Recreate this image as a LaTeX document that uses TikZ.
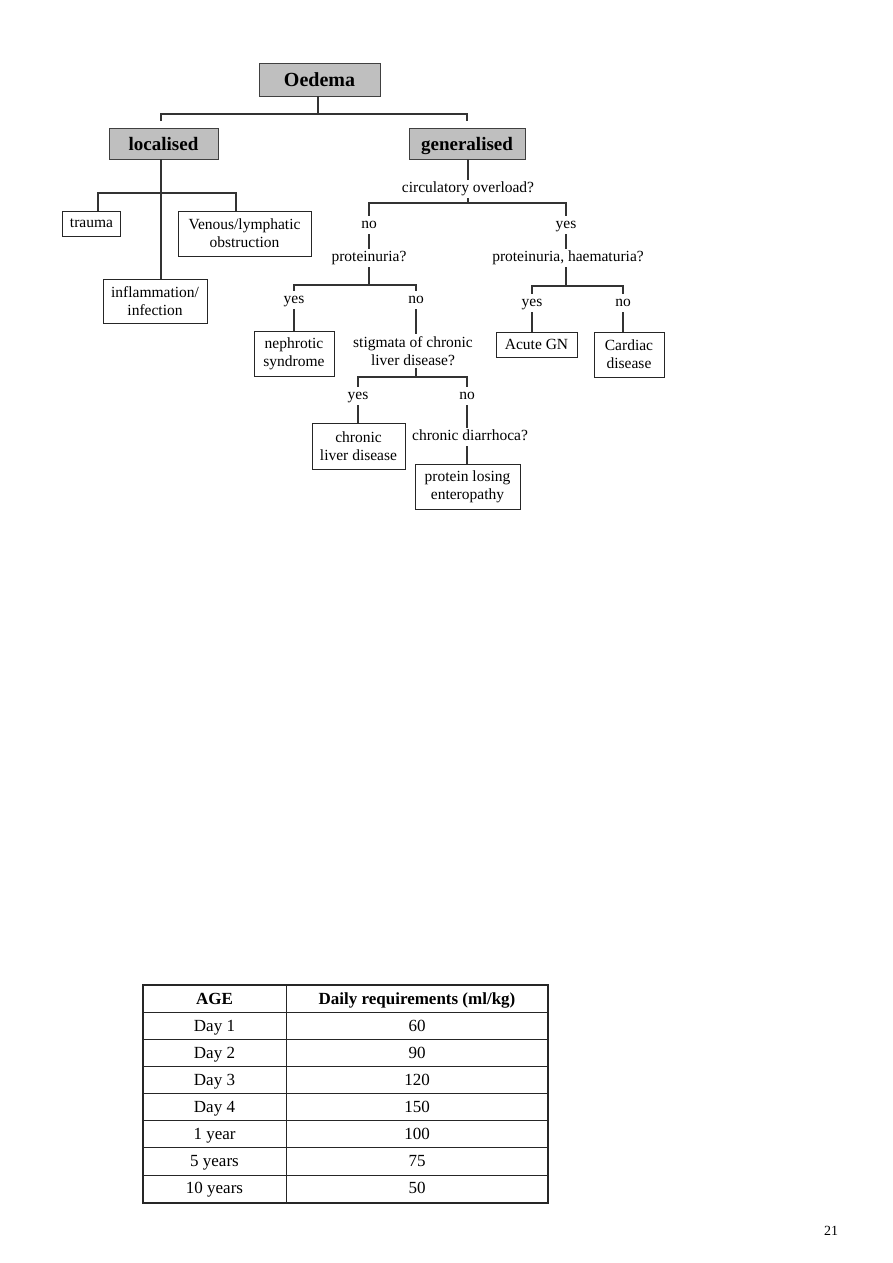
\documentclass[tikz,border=0pt]{standalone}
\usepackage{fontspec}
\setmainfont{Liberation Serif}
\begin{document}
\begin{tikzpicture}[x=1pt, y=-1pt,
    link/.style={draw=black!80, line width=1.1pt},
    head/.style={draw=black!75, fill=black!25, line width=0.8pt, inner sep=0pt,
        text height=13pt, text depth=0pt, font=\fontsize{19}{22}\selectfont\bfseries},
    leaf/.style={draw=black!85, line width=0.8pt, align=center, inner sep=0pt,
        font=\fontsize{15.5}{18}\selectfont},
    qlab/.style={font=\fontsize{15.5}{18}\selectfont, text height=10.5pt, text depth=3.5pt,
        inner xsep=1pt, inner ysep=2pt},
    cell/.style={font=\fontsize{17}{20}\selectfont, inner sep=0pt,
        text height=11.5pt, text depth=0.5pt},
    rule/.style={draw=black!85, line width=0.9pt}]
    \useasboundingbox (0,0) rectangle (893,1263);

    % top level
    \node[head, minimum width=121, minimum height=33, font=\fontsize{20}{24}\selectfont\bfseries] (oed) at (319.5,79.5) {Oedema};
    \node[head, minimum width=109, minimum height=31] (loc) at (163.5,143.5) {localised};
    \node[head, minimum width=116, minimum height=31] (gen) at (467,143.5) {generalised};

    \coordinate (c0) at (318,114);
    \coordinate (l0) at (161,121);
    \coordinate (r0) at (467,121);
    \draw[link] (c0 |- oed.south) -- (c0);
    \draw[link] (l0) |- (c0) -| (r0);

    % localised branch
    \node[leaf, minimum width=58, minimum height=25] (trauma) at (91.5,223.5) {trauma};
    \node[leaf, minimum width=133, minimum height=45] (ven) at (244.5,233.5) {Venous/lymphatic\\obstruction};
    \node[leaf, minimum width=104, minimum height=44] (infl) at (155,301) {inflammation/\\infection};

    \coordinate (c5) at (161,193);
    \coordinate (bl) at (98,193);
    \coordinate (br) at (236,193);
    \draw[link] (c5 |- loc.south) -- (c5 |- infl.north);
    \draw[link] (bl |- trauma.north) -- (bl) -- (br) -- (br |- ven.north);

    % generalised branch
    \node[qlab] (circ) at (468,189) {circulatory overload?};
    \node[qlab] (no1) at (369,225) {no};
    \node[qlab] (yes1) at (566,225) {yes};
    \node[qlab] (prot) at (369,258) {proteinuria?};
    \node[qlab] (ph) at (568,258) {proteinuria, haematuria?};

    \coordinate (c1) at (468,203);
    \draw[link] (c1 |- gen.south) -- (c1 |- circ.north);
    \draw[link] (circ.south) -- (c1);
    \draw[link] (no1.north) |- (c1) -| (yes1.north);
    \draw[link] (no1.south) -- (prot.north);
    \draw[link] (yes1.south) -- (yes1.south |- ph.north);

    % no circulatory overload
    \node[qlab] (yes2) at (294,300) {yes};
    \node[qlab] (no2) at (416,300) {no};
    \node[leaf, minimum width=80, minimum height=45] (neph) at (294,353.5) {nephrotic\\syndrome};
    \node[qlab, align=center, text height=, text depth=] (stig) at (413,351) {stigmata of chronic\\liver disease?};

    \coordinate (c2) at (369,285);
    \draw[link] (prot.south) -- (c2);
    \draw[link] (yes2.north) |- (c2) -| (no2.north);
    \draw[link] (yes2.south) -- (neph.north);
    \draw[link] (no2.south) -- (no2.south |- stig.north);

    \node[qlab] (yes4) at (358,396) {yes};
    \node[qlab] (no4) at (467,396) {no};
    \node[leaf, minimum width=93, minimum height=46] (chr) at (358.5,446) {chronic\\liver disease};
    \node[qlab] (diar) at (470,437) {chronic diarrhoca?};
    \node[leaf, minimum width=105, minimum height=45] (ple) at (467.5,486.5) {protein losing\\enteropathy};

    \coordinate (c3) at (416,377);
    \draw[link] (c3 |- stig.south) -- (c3);
    \draw[link] (yes4.north) |- (c3) -| (no4.north);
    \draw[link] (yes4.south) -- (yes4.south |- chr.north);
    \draw[link] (no4.south) -- (no4.south |- diar.north);
    \draw[link] (no4.south |- diar.south) -- (no4.south |- ple.north);

    % circulatory overload
    \node[qlab] (yes3) at (532,303) {yes};
    \node[qlab] (no3) at (623,303) {no};
    \node[leaf, minimum width=81, minimum height=25] (agn) at (536.5,344.5) {Acute GN};
    \node[leaf, minimum width=70, minimum height=45] (card) at (629,354.5) {Cardiac\\disease};

    \coordinate (c4) at (566,286);
    \draw[link] (c4 |- ph.south) -- (c4);
    \draw[link] (yes3.north) |- (c4) -| (no3.north);
    \draw[link] (yes3.south) -- (yes3.south |- agn.north);
    \draw[link] (no3.south) -- (no3.south |- card.north);

    % fluid table
    \draw[rule] (286,985) -- (286,1203);
    \foreach \i in {1,...,7}
        \draw[rule, line width=0.7pt] (143,{985+27.125*\i}) -- (548,{985+27.125*\i});
    \draw[rule, line width=1.8pt] (143,985) rectangle (548,1203);
    \node[cell, font=\fontsize{17}{20}\selectfont\bfseries] (agehd) at (214.5,998.5) {AGE};
    \node[cell, font=\fontsize{17}{20}\selectfont\bfseries] (reqhd) at (417,998.5) {Daily requirements (ml/kg)};
    \foreach \age/\req [count=\i] in {Day 1/60, Day 2/90, Day 3/120, Day 4/150,
        1 year/100, 5 years/75, 10 years/50} {
        \node[cell] (age\i) at (214.5,{998.56+27.125*\i}) {\age};
        \node[cell] (req\i) at (417,{998.56+27.125*\i}) {\req};
    }

    \node[font=\fontsize{14}{17}\selectfont] (pg) at (831,1231) {21};
\end{tikzpicture}
\end{document}
